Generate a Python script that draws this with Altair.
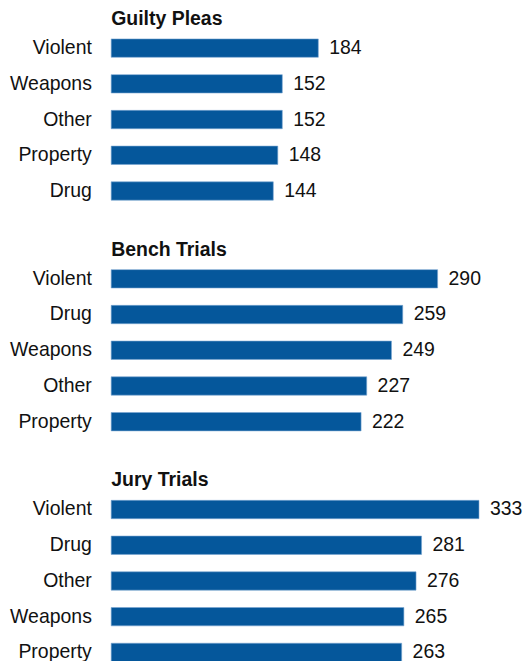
import altair as alt
import pandas as pd

guilty_cats = ["Violent", "Weapons", "Other", "Property", "Drug"]
guilty_vals = [184, 152, 152, 148, 144]
bench_cats = ["Violent", "Drug", "Weapons", "Other", "Property"]
bench_vals = [290, 259, 249, 227, 222]
jury_cats = ["Violent", "Drug", "Other", "Weapons", "Property"]
jury_vals = [333, 281, 276, 265, 263]

FONT = "Liberation Sans"
BAR = "#05579b"
FS = 19.6


def panel(title, cats, vals, dmax):
    df = pd.DataFrame({"cat": cats, "val": vals})
    base = alt.Chart(df).encode(
        y=alt.Y(
            "cat:N",
            sort=cats,
            title=None,
            scale=alt.Scale(paddingInner=0.486, paddingOuter=0.1),
            axis=alt.Axis(
                ticks=False, domain=False, labelFontSize=FS, labelPadding=20,
                labelColor="#111", labelFont=FONT,
            ),
        ),
        x=alt.X("val:Q", scale=alt.Scale(domain=[0, dmax]), axis=None),
    )
    bars = base.mark_bar(color=BAR, stroke="#7aa6d2", strokeWidth=0.6)
    text = base.mark_text(
        align="left", baseline="middle", dx=11, fontSize=FS, font=FONT, color="#111"
    ).encode(text="val:Q")
    return alt.layer(bars, text).properties(
        width=380,
        height=alt.Step(36),
        title=alt.Title(
            title, anchor="start", frame="group", fontSize=FS, font=FONT,
            fontWeight="bold", color="#111", offset=6,
        ),
    )


chart = alt.vconcat(
    panel("Guilty Pleas", guilty_cats, guilty_vals, 335),
    panel("Bench Trials", bench_cats, bench_vals, 335),
    panel("Jury Trials", jury_cats, jury_vals, 341.4),
    spacing=35.5,
).properties(
    padding={"left": 1, "top": -2, "right": 0, "bottom": 0}
).configure_view(stroke=None)

chart.save("out.html", embed_options={"renderer": "svg", "actions": False})
